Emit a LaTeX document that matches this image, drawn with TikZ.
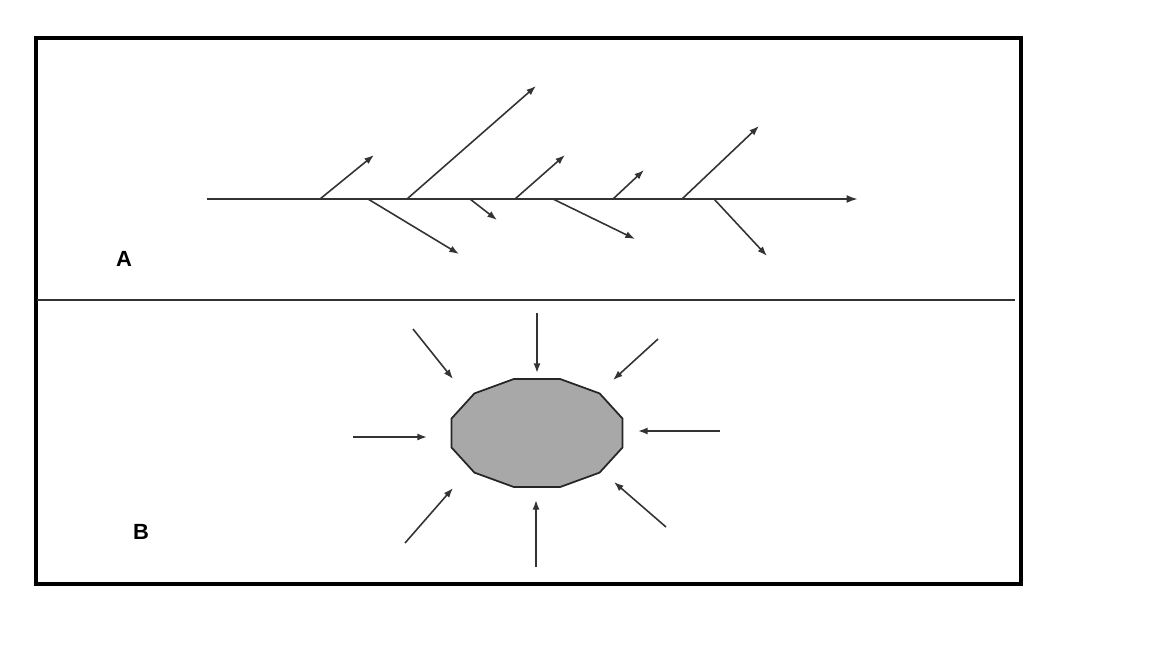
\documentclass[tikz,border=0pt]{standalone}
\usepackage{fontspec}
\setmainfont{Liberation Sans}
\usetikzlibrary{arrows.meta}
\definecolor{inkgray}{HTML}{333333}
\definecolor{blobgray}{HTML}{A8A8A8}
\tikzset{
    frame/.style={line width=2.3pt, black},
    divider/.style={line width=1pt, inkgray},
    spine/.style={line width=1.1pt, inkgray, -{Latex[length=6.5pt,width=4.5pt]}},
    rib/.style={line width=0.9pt, inkgray, -{Latex[length=5.5pt,width=4pt]}},
    blob/.style={line width=1pt, draw=black!85, fill=blobgray},
    panel label/.style={font=\fontsize{12.5}{15}\selectfont\bfseries, inner sep=0pt},
}
\begin{document}
\begin{tikzpicture}[x=0.02cm, y=-0.02cm]
    \useasboundingbox (0,0) rectangle (1159,650);
    \draw [frame] (36,38) rectangle (1021,584);
    \draw [divider] (37,300) -- (1015,300);
    \node [panel label] (labA) at (124,259) {A};
    \node [panel label] (labB) at (141,532) {B};
    % A
    \coordinate (tail) at (207,199);
    \coordinate (head) at (858,199);
    \draw [spine] (tail) -- (head);
    \foreach \sx/\ex/\ey [count=\i] in {320/374/155, 368/459/254, 407/536/86,
        470/497/220, 515/565/155, 553/635/239, 613/644/170, 682/759/126, 714/767/256}
    {
        \coordinate (r\i) at (\sx,199);
        \coordinate (t\i) at (\ex,\ey);
        \draw [rib] (r\i) -- (t\i);
    }
    % B
    \coordinate (core) at (537,433);
    \draw [blob] plot [samples at={15,45,...,345}] ({537+88.5*cos(\x)},{433+56*sin(\x)}) -- cycle;
    \foreach \fx/\fy/\tx/\ty [count=\i] in {413/329/453/379, 537/313/537/373, 658/339/613/380,
        353/437/427/437, 720/431/638/431, 405/543/453/488, 536/567/536/500, 666/527/614/482}
    {
        \coordinate (f\i) at (\fx,\fy);
        \coordinate (g\i) at (\tx,\ty);
        \draw [rib] (f\i) -- (g\i);
    }
\end{tikzpicture}
\end{document}
